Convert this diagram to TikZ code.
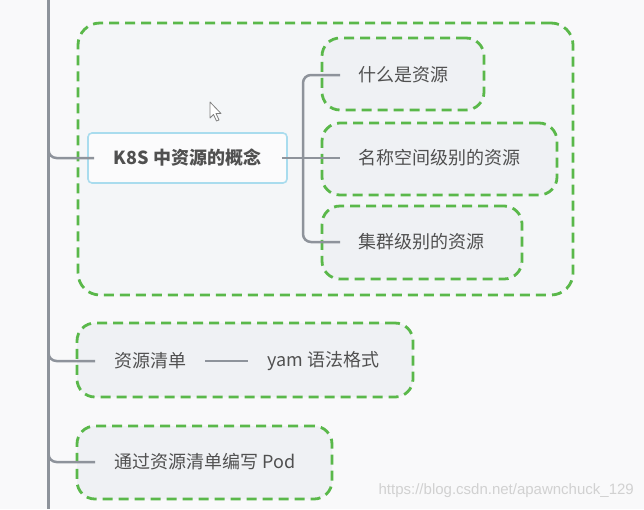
\documentclass[tikz,border=0pt]{standalone}
\usepackage{fontspec}
\setmainfont{Noto Sans CJK SC}
\newfontfamily\wmfont{Liberation Sans}
\definecolor{bg}{HTML}{F9F9FA}
\definecolor{bigfill}{HTML}{F4F6F8}
\definecolor{boxfill}{HTML}{EFF1F4}
\definecolor{dgreen}{HTML}{5AB84A}
\definecolor{conncol}{HTML}{8E939B}
\definecolor{txt}{HTML}{505050}
\definecolor{k8sborder}{HTML}{A9DCEE}
\begin{document}
\begin{tikzpicture}[x=1pt,y=-1pt,
  greenbox/.style={draw=dgreen, fill=boxfill, line width=2.8pt, dash pattern=on 10pt off 6pt, rounded corners=18pt, inner sep=0pt},
  conn/.style={draw=conncol, line width=2.5pt, rounded corners=8pt},
  lbl/.style={text=txt, font=\fontsize{18}{20}\selectfont, inner xsep=18pt, inner ysep=0pt},
  k8sbox/.style={draw=k8sborder, fill=white!60!bigfill, line width=1.6pt, rounded corners=4pt, text=txt, font=\fontsize{18}{20}\selectfont\bfseries, minimum width=199pt, minimum height=50pt}]
\useasboundingbox (0,0) rectangle (644,509);
\fill[bg] (0,0) rectangle (644,509);
% group boxes
\node[greenbox, fill=bigfill, rounded corners=22pt, minimum width=495pt, minimum height=272pt] (big) at (325.5,159) {};
\node[greenbox, minimum width=162pt, minimum height=72pt] (b1) at (403,74) {};
\node[greenbox, minimum width=235pt, minimum height=72pt] (b2) at (439.5,159) {};
\node[greenbox, minimum width=200pt, minimum height=73pt] (b3) at (422,242.5) {};
\node[greenbox, minimum width=336pt, minimum height=74pt] (b4) at (245,360) {};
\node[greenbox, minimum width=255pt, minimum height=73pt] (b5) at (204.5,462.5) {};
% main spine
\coordinate (top) at (48.5,0);
\coordinate (bot) at (48.5,509);
\draw[conn, line width=3pt] (top) -- (bot);
% nodes
\node[k8sbox] (k8s) at (187.5,158) {K8S 中资源的概念};
\node[lbl, anchor=west] (t1) at (340,75) {什么是资源};
\node[lbl, anchor=west] (t2) at (340,158) {名称空间级别的资源};
\node[lbl, anchor=west] (t3) at (340,242) {集群级别的资源};
\node[lbl, anchor=west, inner xsep=19pt] (t4) at (95,361) {资源清单};
\node[lbl, anchor=west, inner xsep=19pt] (t5) at (248,361) {yam 语法格式};
\node[lbl, anchor=west, inner xsep=19pt] (t6) at (95,462) {通过资源清单编写 Pod};
% connectors
\coordinate (s1) at (48.5,140);
\coordinate (s2) at (48.5,343);
\coordinate (s3) at (48.5,444);
\draw[conn] (s1) |- ([xshift=7pt]k8s.west);
\draw[conn] (s2) |- (t4.west);
\draw[conn] (s3) |- (t6.west);
\coordinate (br) at (303,158);
\draw[conn] ([xshift=-6pt]k8s.east) -- (t2.west);
\draw[conn] (br) |- (t1.west);
\draw[conn] (br) |- (t3.west);
\draw[conn] (t4.east) -- (t5.west);
% mouse cursor
\draw[fill=white, draw=gray, line width=0.8pt, line join=round]
  (210,102) -- (210,118) -- (213.5,114.5) -- (216.5,121) -- (219,120) -- (216,113.5) -- (221,113.5) -- cycle;
% watermark
\node[anchor=east, text=black!18, font=\wmfont\fontsize{15}{17}\selectfont, inner sep=0pt] (wm) at (634,491) {https://blog.csdn.net/apawnchuck\_129};
\end{tikzpicture}
\end{document}
